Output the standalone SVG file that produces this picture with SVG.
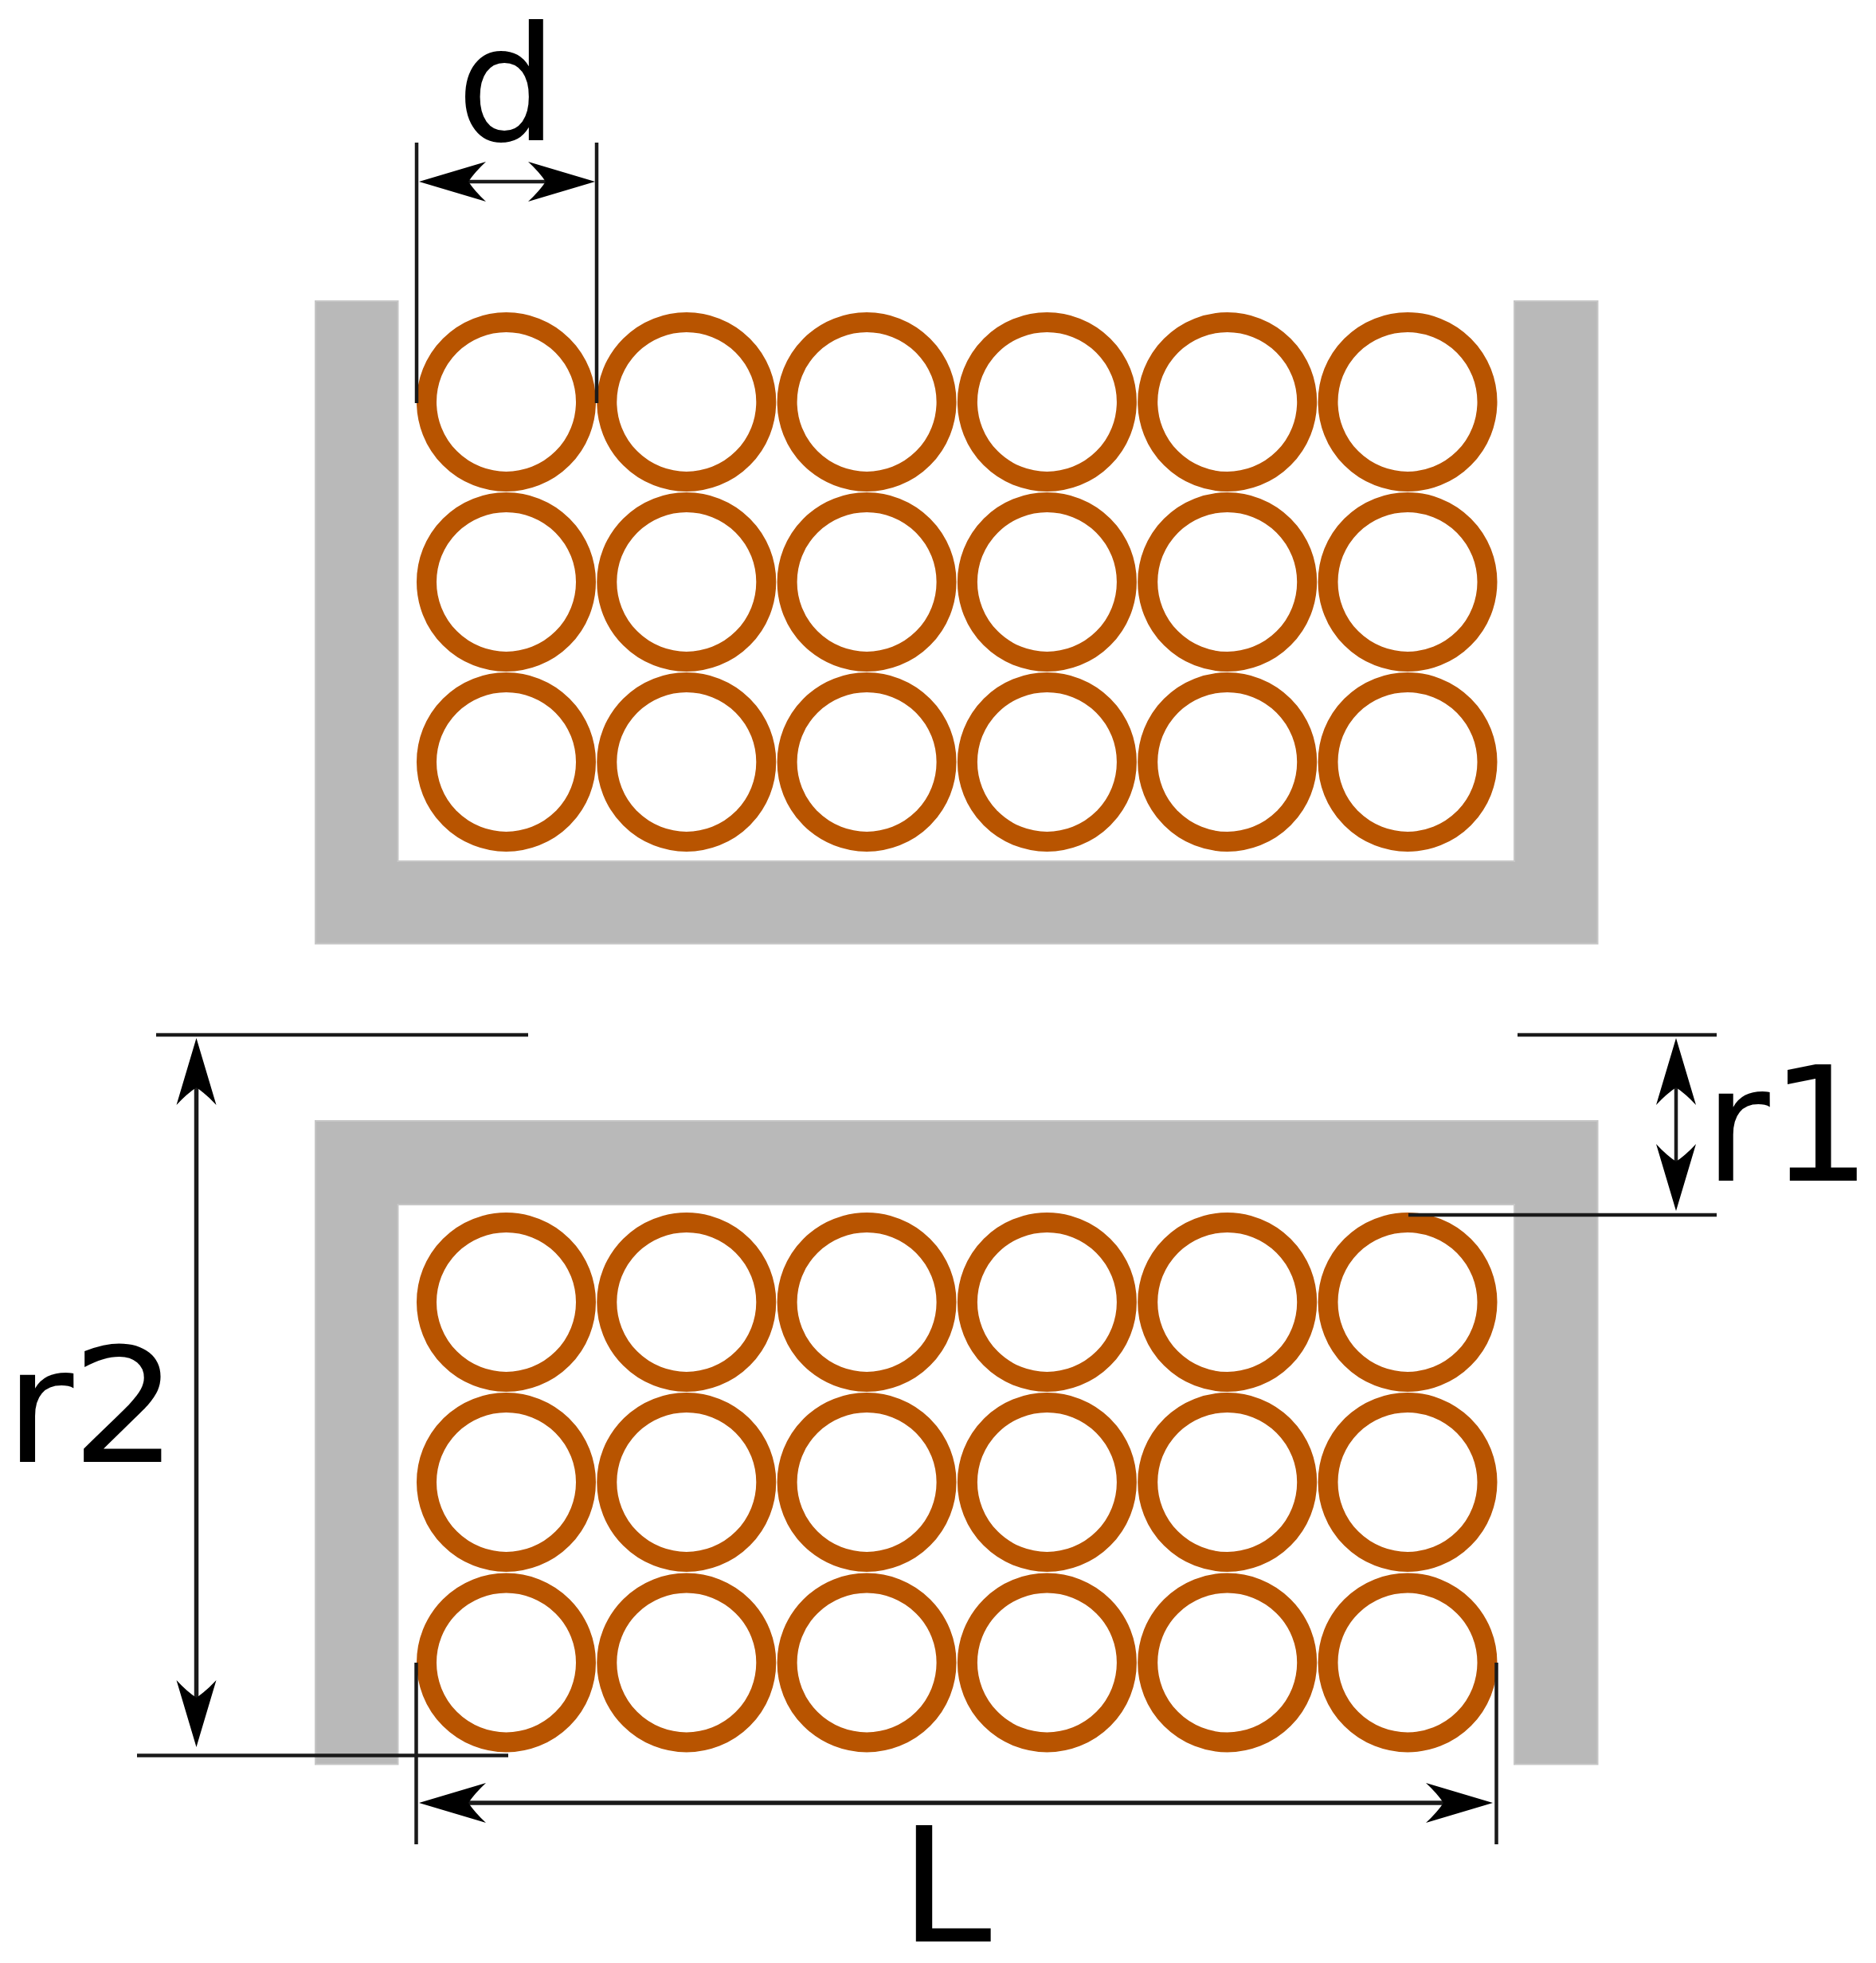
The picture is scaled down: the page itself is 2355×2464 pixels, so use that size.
<svg xmlns="http://www.w3.org/2000/svg" width="2355" height="2464" viewBox="0 0 2355 2464">
<style>
.wall{fill:#b9b9b9;stroke:#c6c6c6;stroke-width:2}
.ring{fill:none;stroke:#b85400;stroke-width:25}
.dim{fill:none;stroke:#1a1a1a;stroke-width:4.5}
.arr{marker-start:url(#ah);marker-end:url(#ah)}
.lbl{font-family:"DejaVu Sans",sans-serif;font-size:200px;fill:#000}
</style>
<defs>
<marker id="ah" markerUnits="userSpaceOnUse" viewBox="-30 -30 110 60" refX="0" refY="0" markerWidth="110" markerHeight="60" orient="auto-start-reverse">
<path d="M62 0 L-22 25 Q-8 12 0 0 Q-8 -12 -22 -25 Z" fill="#000"/>
</marker>
<g id="row"><circle class="ring" cx="635.500" cy="0" r="100"/><circle class="ring" cx="861.800" cy="0" r="100"/><circle class="ring" cx="1088.100" cy="0" r="100"/><circle class="ring" cx="1314.400" cy="0" r="100"/><circle class="ring" cx="1540.700" cy="0" r="100"/><circle class="ring" cx="1767" cy="0" r="100"/></g>
</defs>
<rect width="2355" height="2464" fill="#fff"/>
<g id="top-channel">
<path class="wall" d="M396 378H499.500V1081H1901V378H2005.500V1184.500H396Z"/>
<use href="#row" y="504.500"/><use href="#row" y="730.500"/><use href="#row" y="956.500"/>
</g>
<g id="bottom-channel">
<path class="wall" d="M396 1407H2005.500V2214.500H1901V1512H499.500V2214.500H396Z"/>
<use href="#row" y="1634.500"/><use href="#row" y="1860.500"/><use href="#row" y="2087"/>
</g>
<g id="connectors">
<path class="dim" d="M523 179V506M749 179V506"/>
<path class="dim arr" d="M588 228H685"/>
<path class="dim" d="M196 1299H663M1905 1299H2155M1768 1525H2155"/>
<path class="dim arr" d="M2104 1365V1458"/>
<path class="dim arr" d="M246.500 1365V2131" style="stroke-width:5.500"/>
<path class="dim" d="M172 2203.500H638M522.500 2087V2315M1878.500 2087V2315"/>
<path class="dim arr" d="M588 2263H1812" style="stroke-width:5.500"/>
</g>
<g id="label-d"><text class="lbl" x="573" y="176">d</text></g>
<g id="label-r1"><text class="lbl" x="2139.500 2222" y="1482">r1</text></g>
<g id="label-r2"><text class="lbl" transform="matrix(1.05 0 0 1 6 1835)" x="0 79.700">r2</text></g>
<g id="label-L"><text class="lbl" transform="matrix(1.035 0 0 1 1129.500 2437)">L</text></g>
</svg>
